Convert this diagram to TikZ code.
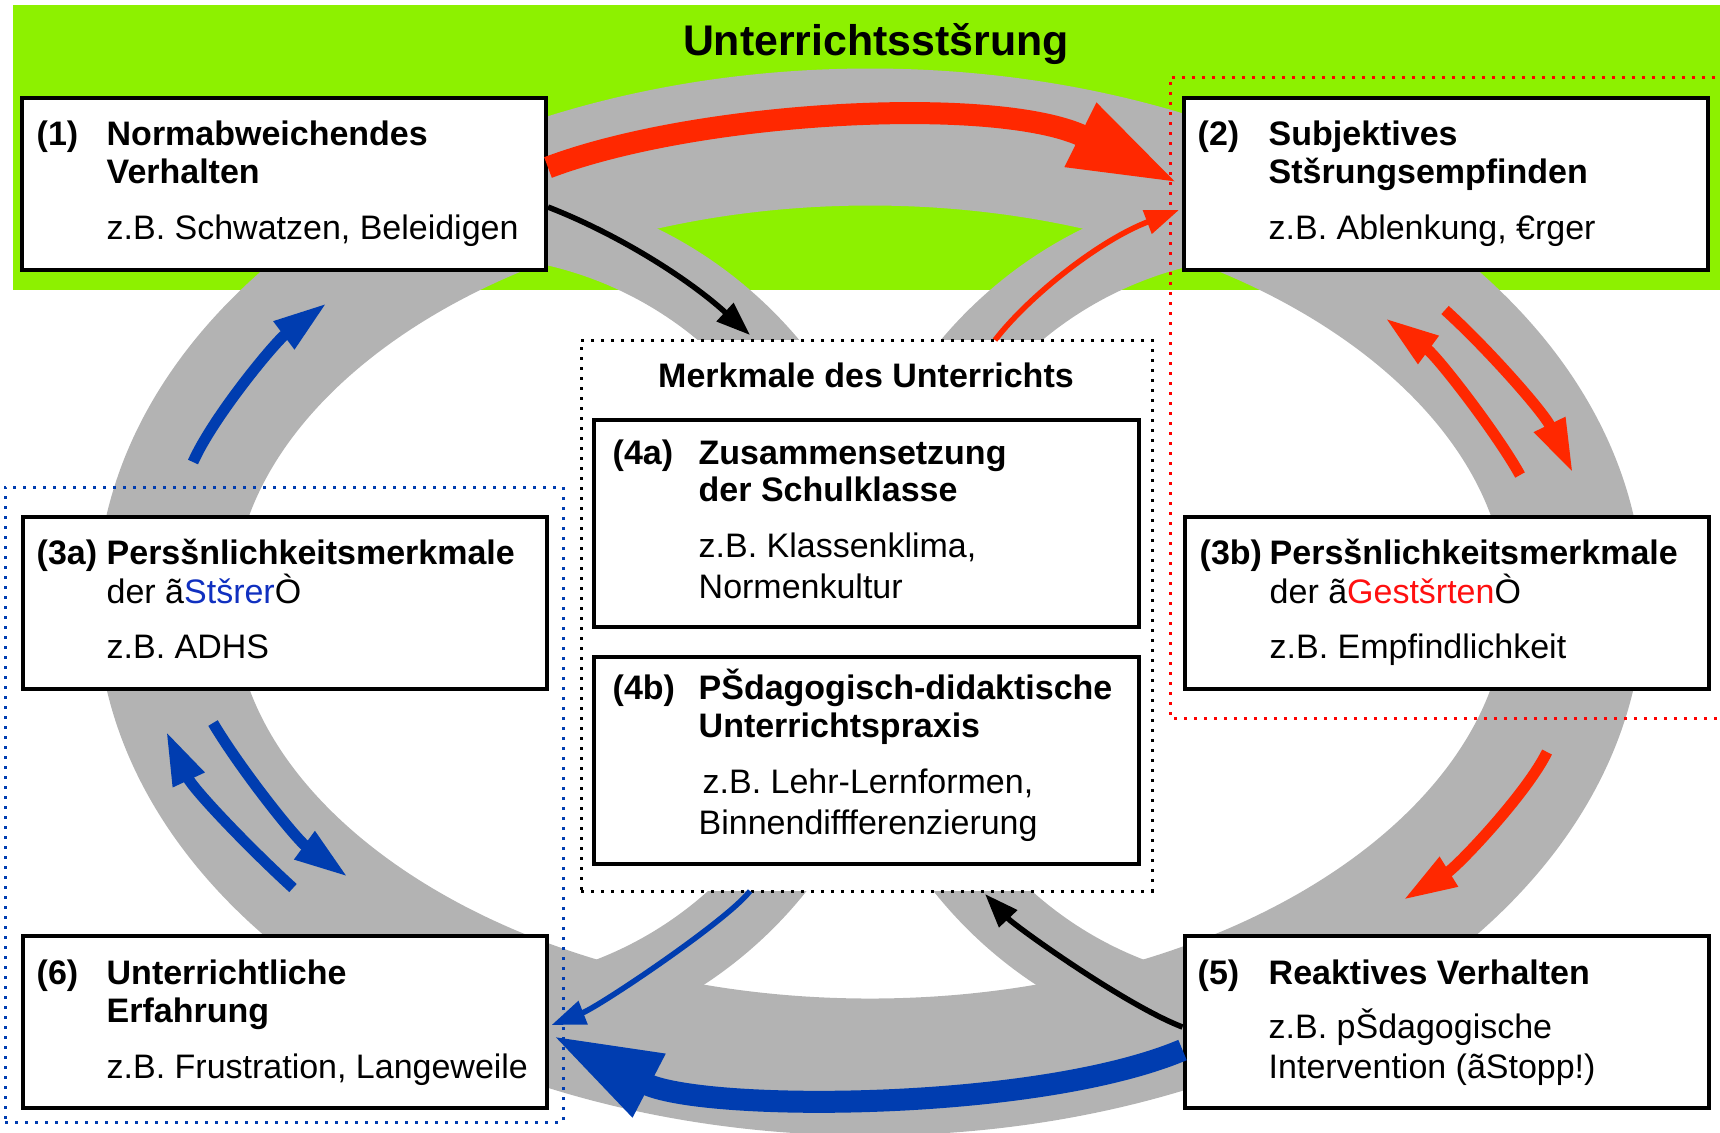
\documentclass[tikz,border=0pt]{standalone}
\usepackage{fontspec}
\setmainfont{Liberation Sans}
\usetikzlibrary{arrows.meta,calc}
\definecolor{bggreen}{RGB}{141,241,0}
\definecolor{ringgray}{RGB}{179,179,179}
\definecolor{arrred}{RGB}{255,40,0}
\definecolor{arrblue}{RGB}{0,61,176}
\definecolor{txtblue}{RGB}{16,48,192}
\definecolor{txtred}{RGB}{255,16,16}
\begin{document}
\begin{tikzpicture}[x=0.1mm,y=-0.1mm,
  stage/.style={draw=black,line width=0.4mm,fill=white,inner sep=0pt,minimum width=52.4mm,minimum height=17.2mm},
  feat/.style={draw=black,line width=0.4mm,fill=white,inner sep=0pt,minimum width=54.5mm,minimum height=20.7mm},
  tx/.style={anchor=base west,inner sep=0pt,font=\fontsize{9.67pt}{11pt}\selectfont},
  tb/.style={anchor=base west,inner sep=0pt,font=\fontsize{9.67pt}{11pt}\selectfont\bfseries},
  ring/.style={draw=ringgray,line width=13.7mm},
  innerband/.style={draw=ringgray,line width=7.2mm},
  bigarr/.style={line width=2.2mm,-{Triangle[length=11mm,width=6.5mm]}},
  midarr/.style={line width=1.1mm,-{Triangle[length=5.4mm,width=3.2mm]}},
  thinarr/.style={line width=0.55mm,-{Triangle[length=3.4mm,width=2.4mm]}},
  dotbox/.style={line width=0.3mm,dash pattern=on 0.3mm off 0.7mm},
]
\useasboundingbox (0,0) rectangle (1720,1132);
\fill[bggreen] (13,5) rectangle (1720,290);
% grey rings
\draw[ring] (870,602) ellipse [x radius=705, y radius=465];
\draw[innerband] (499.9,221.5) arc[start angle=-85,end angle=85,radius=400];
\draw[innerband] (1240.1,1018.5) arc[start angle=95,end angle=265,radius=400];
% dotted frames
\node[draw=black,fill=white,dotbox,minimum width=57.1mm,minimum height=55.1mm,inner sep=0pt] (m) at (866.5,615.5) {};
\node[draw=arrblue,dotbox,minimum width=55.8mm,minimum height=63.5mm,inner sep=0pt] (bz) at (284,804.5) {};
\draw[draw=red,dotbox] (1725,77) -- (1170,77) -- (1170,718) -- (1725,718);
% boxes
\node[stage] (b1) at (284,183.5) {};
\node[stage] (b2) at (1446,183.5) {};
\node[stage] (b3a) at (284.5,602.5) {};
\node[stage] (b3b) at (1446.5,602.5) {};
\node[stage] (b6) at (284.5,1022) {};
\node[stage] (b5) at (1446.5,1022) {};
\node[feat] (b4a) at (866.5,523.5) {};
\node[feat] (b4b) at (866.5,760.5) {};
% texts
\node[anchor=base,inner sep=0pt,font=\fontsize{12.2pt}{14pt}\selectfont\bfseries] (title) at (876,55) {Unterrichtsstšrung};
\node[anchor=base,inner sep=0pt,font=\fontsize{9.67pt}{11pt}\selectfont\bfseries] (mt) at (866,387) {Merkmale des Unterrichts};
\node[tb] (n1) at (36,145) {(1)};
\node[tb] (n1a) at (106,145) {Normabweichendes};
\node[tb] (n1b) at (106,183) {Verhalten};
\node[tx] (n1c) at (106,239) {z.B. Schwatzen, Beleidigen};
\node[tb] (n2) at (1197,145) {(2)};
\node[tb] (n2a) at (1268,145) {Subjektives};
\node[tb] (n2b) at (1268,183) {Stšrungsempfinden};
\node[tx] (n2c) at (1268,239) {z.B. Ablenkung, €rger};
\node[tb] (n3) at (36,564) {(3a)};
\node[tb] (n3a) at (106,564) {Persšnlichkeitsmerkmale};
\node[tx] (n3b) at (106,603) {der ã\textcolor{txtblue}{Stšrer}Ò};
\node[tx] (n3c) at (106,658) {z.B. ADHS};
\node[tb] (n4) at (1199,564) {(3b)};
\node[tb] (n4a) at (1269,564) {Persšnlichkeitsmerkmale};
\node[tx] (n4b) at (1269,603) {der ã\textcolor{txtred}{Gestšrten}Ò};
\node[tx] (n4c) at (1269,658) {z.B. Empfindlichkeit};
\node[tb] (n6) at (36,984) {(6)};
\node[tb] (n6a) at (106,984) {Unterrichtliche};
\node[tb] (n6b) at (106,1022) {Erfahrung};
\node[tx] (n6c) at (106,1078) {z.B. Frustration, Langeweile};
\node[tb] (n5) at (1197,984) {(5)};
\node[tb] (n5a) at (1268,984) {Reaktives Verhalten};
\node[tx] (n5b) at (1268,1038) {z.B. pŠdagogische};
\node[tx] (n5c) at (1268,1078) {Intervention (ãStopp!)};
\node[tb] (n7) at (612,464) {(4a)};
\node[tb] (n7a) at (698,464) {Zusammensetzung};
\node[tb] (n7b) at (698,501) {der Schulklasse};
\node[tx] (n7c) at (698,557) {z.B. Klassenklima,};
\node[tx] (n7d) at (698,598) {Normenkultur};
\node[tb] (n8) at (612,699) {(4b)};
\node[tb] (n8a) at (698,699) {PŠdagogisch-didaktische};
\node[tb] (n8b) at (698,737) {Unterrichtspraxis};
\node[tx] (n8c) at (702,793) {z.B. Lehr-Lernformen,};
\node[tx] (n8d) at (698,834) {Binnendiffferenzierung};
% free ends
\coordinate (k1) at (750,335);
\coordinate (k2) at (995,340);
\coordinate (k3) at (750,891);
\coordinate (k4) at (985,894);
\coordinate (r1t) at (1520,475); \coordinate (r1h) at (1385,318);
\coordinate (r2t) at (1445,310); \coordinate (r2h) at (1573,473);
\coordinate (r3t) at (1547,752); \coordinate (r3h) at (1403,900);
\coordinate (u1t) at (193,462); \coordinate (u1h) at (327,303);
\coordinate (u2t) at (293,888); \coordinate (u2h) at (166,731);
\coordinate (u3t) at (213,723); \coordinate (u3h) at (348,877);
% arrows
\draw[bigarr,arrred] ($(b1.east)+(0,-16)$) .. controls (700,110) and (1000,95) .. ($(b2.west)+(-3,0)$);
\draw[thinarr,black] ($(b1.east)+(0,23.5)$) .. controls (620,235) and (690,280) .. (k1);
\draw[thinarr,arrred] (k2) .. controls (1030,295) and (1100,240) .. ($(b2.west)+(-3,26.5)$);
\draw[midarr,arrred] (r1t) .. controls (1498,435) and (1438,357) .. (r1h);
\draw[midarr,arrred] (r2t) .. controls (1485,346) and (1543,411) .. (r2h);
\draw[midarr,arrred] (r3t) .. controls (1527,793) and (1458,866) .. (r3h);
\draw[midarr,arrblue] (u1t) .. controls (213,417) and (275,342) .. (u1h);
\draw[midarr,arrblue] (u2t) .. controls (248,847) and (193,789) .. (u2h);
\draw[midarr,arrblue] (u3t) .. controls (241,770) and (296,839) .. (u3h);
\draw[thinarr,arrblue] (k3) .. controls (728,920) and (600,1006) .. ($(b6.east)+(3,3)$);
\draw[bigarr,arrblue] ($(b5.west)+(0,28)$) .. controls (1035,1112) and (700,1112) .. ($(b6.east)+(3,13)$);
\draw[thinarr,black] ($(b5.west)+(0,5)$) .. controls (1125,1005) and (1015,926) .. (k4);
\end{tikzpicture}
\end{document}
